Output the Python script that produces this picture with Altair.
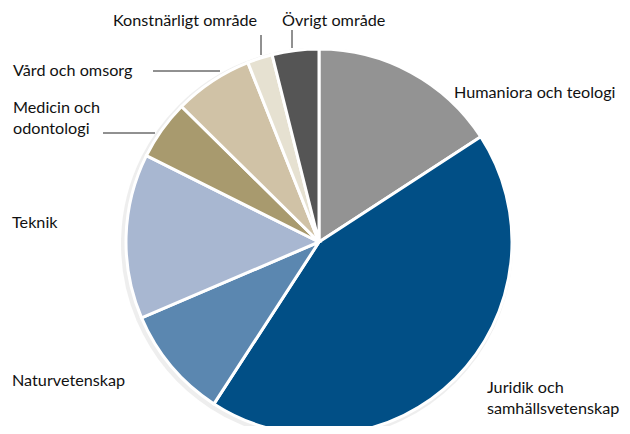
import altair as alt
import pandas as pd

categories = [
    "Humaniora och teologi",
    "Juridik och samhällsvetenskap",
    "Naturvetenskap",
    "Teknik",
    "Medicin och odontologi",
    "Vård och omsorg",
    "Konstnärligt område",
    "Övrigt område",
]
shares = [15.8, 43.3, 9.4, 13.8, 5.0, 6.6, 2.1, 3.9]
colors = ["#939393", "#014f86", "#5b87b0", "#a8b7d1", "#a89a6e", "#d0c2a6", "#e6e1d1", "#555555"]

# label texts (multi-line where the original wraps)
label_lines = [
    ["Humaniora och teologi"],
    ["Juridik och", "samhällsvetenskap"],
    ["Naturvetenskap"],
    ["Teknik"],
    ["Medicin och", "odontologi"],
    ["Vård och omsorg"],
    ["Konstnärligt område"],
    ["Övrigt område"],
]

df = pd.DataFrame({"category": categories, "share": shares, "order": list(range(len(categories)))})

# layout (pixel positions inside chart area)
CX, CY, R = 311, 234, 193
label_layout = {
    "Humaniora och teologi": (446, 85),
    "Juridik och samhällsvetenskap": (479, 380),
    "Naturvetenskap": (4, 373),
    "Teknik": (4, 215),
    "Medicin och odontologi": (5, 100),
    "Vård och omsorg": (5, 63),
    "Konstnärligt område": (105, 13),
    "Övrigt område": (274, 13),
}
lbl_rows = []
for cat, lines in zip(categories, label_lines):
    x, y = label_layout[cat]
    lbl_rows.append({"category": cat, "lx": x, "ly": y, "text": lines})
lbl_df = pd.DataFrame(lbl_rows)

leaders = pd.DataFrame({
    "x": [253, 284, 145, 95],
    "x2": [253, 284, 212, 147],
    "y": [27, 22, 63, 125],
    "y2": [47, 40, 63, 125],
})

color_scale = alt.Scale(domain=categories, range=colors)

shadow = alt.Chart(df).mark_arc(outerRadius=R + 3, color="#dddddd", opacity=0.5).encode(
    theta=alt.Theta("share:Q", stack=True),
    order=alt.Order("order:Q"),
    x=alt.value(CX - 2),
    y=alt.value(CY + 2),
)

pie = alt.Chart(df).mark_arc(stroke="white", strokeWidth=3, outerRadius=R).encode(
    theta=alt.Theta("share:Q", stack=True),
    order=alt.Order("order:Q"),
    color=alt.Color("category:N", scale=color_scale, legend=None),
    x=alt.value(CX),
    y=alt.value(CY),
)

labels = alt.Chart(lbl_df).mark_text(
    align="left", baseline="middle", font="Lato", fontSize=16.2, color="#111111", lineHeight=21
).encode(
    x=alt.X("lx:Q", scale=None, axis=None),
    y=alt.Y("ly:Q", scale=None, axis=None),
    text="text",
)

rules = alt.Chart(leaders).mark_rule(color="#222222", strokeWidth=1).encode(
    x=alt.X("x:Q", scale=None),
    x2="x2:Q",
    y=alt.Y("y:Q", scale=None),
    y2="y2:Q",
)

chart = alt.layer(shadow, pie, rules, labels).properties(
    width=614, height=418, padding=0, autosize="none"
).configure_view(stroke=None)

chart.save("out.html", embed_options={"renderer": "svg", "actions": False})
